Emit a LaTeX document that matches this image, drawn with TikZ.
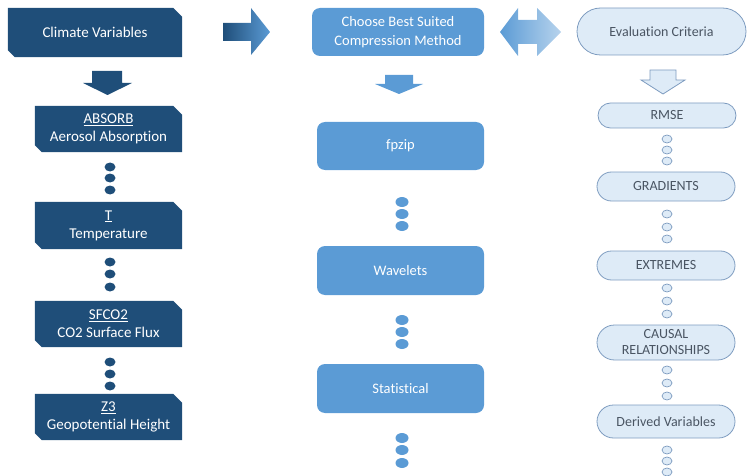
\documentclass[tikz,border=0pt]{standalone}
\usepackage{fontspec}
\setmainfont{Carlito}[Ligatures=NoCommon]
\usetikzlibrary{shapes.misc,backgrounds}
\definecolor{navy}{HTML}{1F4E79}
\definecolor{midblue}{HTML}{5B9BD5}
\definecolor{lightfill}{HTML}{DEEBF7}
\definecolor{lightline}{HTML}{7E9CC0}
\definecolor{evtext}{HTML}{4A5563}
\tikzset{
  navybox/.style={rectangle, text=white,
    font=\fontsize{15}{18}\selectfont, align=center, inner sep=0pt},
  medbox/.style={rectangle, rounded corners=8pt, fill=midblue, text=white,
    font=\fontsize{14.5}{19}\selectfont, align=center, inner sep=0pt},
  evbox/.style={rounded rectangle, draw=lightline, line width=0.8pt, fill=lightfill, text=evtext,
    font=\fontsize{14}{16}\selectfont, align=center, inner sep=0pt},
  navydot/.style={fill=navy},
  meddot/.style={fill=midblue},
  evdot/.style={draw=lightline, line width=0.7pt, fill=lightfill},
}
\begin{document}
\begin{tikzpicture}[x=1pt,y=-1pt]
\useasboundingbox (0,0) rectangle (747,476);
% left column
\node[navybox, minimum width=174pt, minimum height=49pt] (cv) at (95,32.5) {Climate Variables};
\node[navybox, minimum width=147pt, minimum height=46pt] (absorb) at (108.5,129) {\underline{ABSORB}\\Aerosol Absorption};
\node[navybox, minimum width=147pt, minimum height=47pt] (t) at (108.5,225.5) {\underline{T}\\Temperature};
\node[navybox, minimum width=147pt, minimum height=46pt] (sfco) at (108.5,324) {\underline{SFCO2}\\CO2 Surface Flux};
\node[navybox, minimum width=147pt, minimum height=46pt] (z3) at (108.5,417) {\underline{Z3}\\Geopotential Height};
\begin{pgfonlayer}{background}
\foreach \n in {cv,absorb,t,sfco,z3}
  \fill[navy] (\n.north west) -- ([xshift=-9pt]\n.north east) -- ([yshift=-9pt]\n.north east)
    -- (\n.south east) -- ([xshift=7pt]\n.south west) -- ([yshift=7pt]\n.south west) -- cycle;
\end{pgfonlayer}
% left down arrow
\fill[navy] (92,71) -- (122,71) -- (122,83) -- (132,83) -- (107.5,95) -- (83,83) -- (92,83) -- cycle;
% left dots
\foreach \yy in {167,178,190,262,274,287,362,374,386}
  \fill[navydot] (110,\yy) ellipse [x radius=5.5pt, y radius=4.5pt];
% gradient right arrow
\shade[left color=navy, right color=midblue] (223,23) -- (251,23) -- (251,8) -- (270,32) -- (251,55) -- (251,41) -- (223,41) -- cycle;
% middle column
\node[medbox, minimum width=172pt, minimum height=48pt] (cbs) at (398,32) {Choose Best Suited\\Compression Method};
\fill[midblue] (385,75) -- (413,75) -- (413,84) -- (423,84) -- (399,94) -- (375,84) -- (385,84) -- cycle;
\node[medbox, minimum width=167pt, minimum height=48pt] (fpzip) at (400.5,146) {fpzip};
\node[medbox, minimum width=167pt, minimum height=49pt] (wav) at (400.5,270.5) {Wavelets};
\node[medbox, minimum width=167pt, minimum height=49pt] (stat) at (400.5,388.5) {Statistical};
\foreach \yy in {202,214,226,320,332,344,438,450,463}
  \fill[meddot] (402,\yy) ellipse [x radius=6.5pt, y radius=5pt];
% double arrow
\shade[left color=midblue, middle color=lightfill!60!white, right color=lightfill!70!midblue]
  (500,32) -- (518,8) -- (518,20) -- (537,20) -- (537,8) -- (561,32) -- (537,56) -- (537,44) -- (518,44) -- (518,56) -- cycle;
% right column
\node[evbox, minimum width=169pt, minimum height=47pt] (ev) at (661.5,31.5) {Evaluation Criteria};
\filldraw[draw=lightline, line width=0.8pt, fill=lightfill] (650,70) -- (676,70) -- (676,80) -- (685,80) -- (663,94) -- (641,80) -- (650,80) -- cycle;
\node[evbox, minimum width=138pt, minimum height=25pt] (rmse) at (667,115.5) {RMSE};
\node[evbox, minimum width=138pt, minimum height=29pt] (grad) at (666,186.5) {GRADIENTS};
\node[evbox, minimum width=138pt, minimum height=29pt] (ext) at (666,265.5) {EXTREMES};
\node[evbox, minimum width=138pt, minimum height=35pt] (causal) at (666,342.5) {CAUSAL\\RELATIONSHIPS};
\node[evbox, minimum width=138pt, minimum height=33pt] (derived) at (666,421.5) {Derived Variables};
\foreach \yy in {139,150,161,214,227,239,288,301,314,370,383,396,450,461,472}
  \filldraw[evdot] (667,\yy) ellipse [x radius=5pt, y radius=4pt];
\end{tikzpicture}
\end{document}
